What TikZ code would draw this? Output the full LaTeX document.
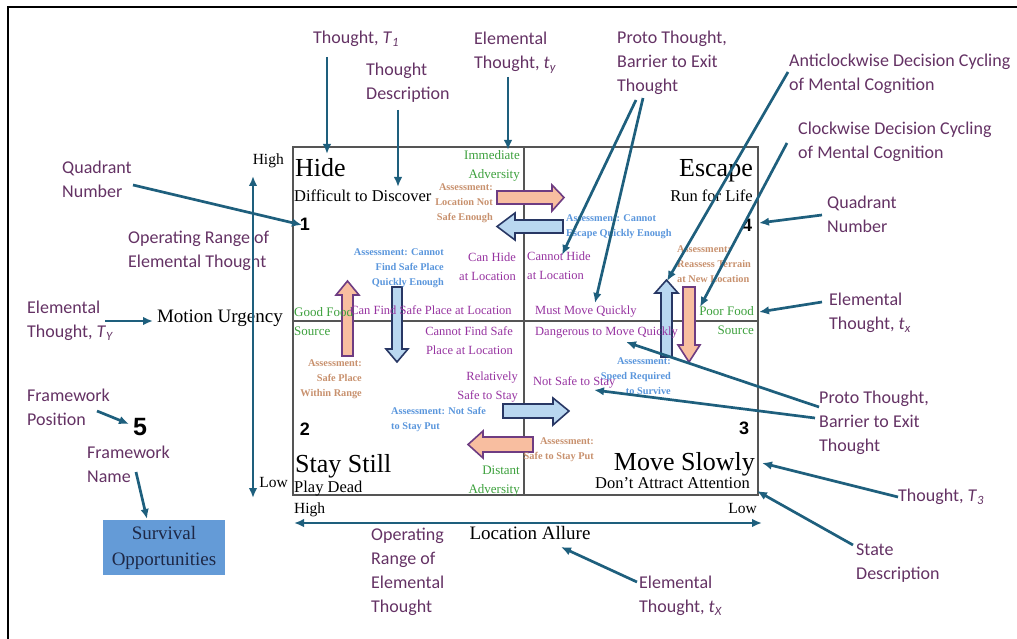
\documentclass[tikz,border=0pt]{standalone}
\usepackage{fontspec}
\setmainfont{Liberation Serif}
\newfontfamily\annfont{Carlito}
\newfontfamily\numfont{Liberation Sans}
\usetikzlibrary{arrows.meta}
\definecolor{tealc}{RGB}{30,95,125}
\definecolor{annc}{RGB}{100,50,100}
\definecolor{purpc}{RGB}{150,50,160}
\definecolor{grnc}{RGB}{60,160,60}
\definecolor{tanc}{RGB}{200,145,110}
\definecolor{bluec}{RGB}{90,150,220}
\definecolor{warmfill}{RGB}{248,190,160}
\definecolor{warmedge}{RGB}{110,60,130}
\definecolor{coolfill}{RGB}{185,215,240}
\definecolor{cooledge}{RGB}{40,55,100}
\definecolor{boxc}{RGB}{85,85,85}
\definecolor{survfill}{RGB}{100,155,215}
\definecolor{survtext}{RGB}{30,40,70}
\tikzset{
  ann/.style={font=\annfont\fontsize{18}{24}\selectfont, text=annc, inner sep=0pt, align=left, anchor=north west},
  purp/.style={font=\fontsize{12.5}{19}\selectfont, text=purpc, inner sep=0pt},
  grn/.style={font=\fontsize{13}{19}\selectfont, text=grnc, inner sep=0pt},
  asmt/.style={font=\bfseries\fontsize{10.3}{15}\selectfont, inner sep=0pt},
  bigl/.style={font=\fontsize{26}{28}\selectfont, inner sep=0pt},
  desc/.style={font=\fontsize{16.5}{18}\selectfont, inner sep=0pt},
  axl/.style={font=\fontsize{15.5}{17}\selectfont, inner sep=0pt},
  axt/.style={font=\fontsize{19}{21}\selectfont, inner sep=0pt},
  qnum/.style={font=\numfont\bfseries\fontsize{18}{18}\selectfont, inner sep=0pt},
  callout/.style={draw=tealc, line width=2.7pt, -{Latex[length=10pt,width=8.5pt]}},
  axisarrow/.style={draw=tealc, line width=2.7pt, {Latex[length=10pt,width=8.5pt]}-{Latex[length=10pt,width=8.5pt]}},
  warm/.style={draw=warmedge, fill=warmfill, line width=1.6pt},
  cool/.style={draw=cooledge, fill=coolfill, line width=1.6pt},
}
\begin{document}
\begin{tikzpicture}[x=1pt,y=-1pt]
\useasboundingbox (0,0) rectangle (1017,639);
% outer frame
\draw[line width=2pt] (8,639) -- (8,7) -- (1017,7);
% main box
\draw[boxc, line width=1.6pt] (293,147) rectangle (758,495);
\draw[boxc, line width=1.6pt] (524,147) -- (524,495);
\draw[boxc, line width=1.6pt] (293,321) -- (758,321);

% block arrows
\draw[warm] (497,191) -- (552,191) -- (552,185) -- (564,197.5) -- (552,211) -- (552,204) -- (497,204) -- cycle;
\draw[cool] (563,220) -- (515,220) -- (515,213) -- (497,226.5) -- (515,240) -- (515,233) -- (563,233) -- cycle;
\draw[warm] (342,356) -- (342,295) -- (336,295) -- (347.5,281) -- (359,295) -- (353,295) -- (353,356) -- cycle;
\draw[cool] (392,287) -- (392,349) -- (386,349) -- (397,362) -- (408,349) -- (402,349) -- (402,287) -- cycle;
\draw[cool] (661,357) -- (661,293) -- (655,293) -- (666.5,280) -- (678,293) -- (672,293) -- (672,357) -- cycle;
\draw[warm] (683,287) -- (683,345) -- (678,345) -- (689,362) -- (700,345) -- (695,345) -- (695,287) -- cycle;
\draw[cool] (503,404) -- (553,404) -- (553,398) -- (569,411) -- (553,425) -- (553,418) -- (503,418) -- cycle;
\draw[warm] (533,437) -- (483,437) -- (483,431) -- (468,444.5) -- (483,458) -- (483,452) -- (533,452) -- cycle;

% quadrant headings
\node[bigl, anchor=base west] (hide) at (295,177) {Hide};
\node[desc, anchor=base west] (hided) at (294,201) {Difficult to Discover};
\node[bigl, anchor=base east] (esc) at (753,177) {Escape};
\node[desc, anchor=base east] (escd) at (753,201) {Run for Life};
\node[bigl, anchor=base west] (stay) at (295,472) {Stay Still};
\node[desc, anchor=base west] (stayd) at (294,492) {Play Dead};
\node[bigl, anchor=base east] (slow) at (755,470) {Move Slowly};
\node[desc, anchor=base east] (slowd) at (750,488) {Don’t Attract Attention};
% quadrant numbers
\node[qnum] (n1) at (305,224) {1};
\node[qnum] (n4) at (747,225) {4};
\node[qnum] (n2) at (305,429) {2};
\node[qnum] (n3) at (744,428) {3};

% green elemental texts
\node[grn, align=right, anchor=north east] (immadv) at (520,150) {Immediate\\Adversity};
\node[grn, align=right, anchor=north east] (distadv) at (520,466) {Distant\\Adversity};
\node[grn, align=left, anchor=north west] (goodfood) at (294,307) {Good Food\\Source};
\node[grn, align=right, anchor=north east] (poorfood) at (754,306) {Poor Food\\Source};

% assessments
\node[asmt, text=tanc, align=right, anchor=north east] (a1) at (493,184) {Assessment:\\Location Not\\Safe Enough};
\node[asmt, text=bluec, align=left, anchor=north west] (a2) at (566,214) {Assessment: Cannot\\Escape Quickly Enough};
\node[asmt, text=bluec, align=right, anchor=north east] (a3) at (444,248) {Assessment: Cannot\\Find Safe Place\\Quickly Enough};
\node[asmt, text=tanc, align=left, anchor=north west] (a4) at (677,245) {Assessment:\\Reassess Terrain\\at New Location};
\node[asmt, text=bluec, align=right, anchor=north east] (a5) at (671,357) {Assessment:\\Speed Required\\to Survive};
\node[asmt, text=tanc, align=right, anchor=north east] (a6) at (594,437) {Assessment:\\Safe to Stay Put};
\node[asmt, text=tanc, align=right, anchor=north east] (a7) at (362,359) {Assessment:\\Safe Place\\Within Range};
\node[asmt, text=bluec, align=left, anchor=north west] (a8) at (391,407) {Assessment: Not Safe\\to Stay Put};

% purple proto texts
\node[purp, align=right, anchor=north east] (p1) at (516,253) {Can Hide\\at Location};
\node[purp, align=left, anchor=north west] (p2) at (527,252) {Cannot Hide\\at Location};
\node[purp, anchor=mid] (p3) at (431,312) {Can Find Safe Place at Location};
\node[purp, anchor=mid west] (p4) at (535,312) {Must Move Quickly};
\node[purp, anchor=mid west] (p5) at (535,333) {Dangerous to Move Quickly};
\node[purp, align=right, anchor=north east] (p6) at (513,326) {Cannot Find Safe\\Place at Location};
\node[purp, align=right, anchor=north east] (p7) at (518,372) {Relatively\\Safe to Stay};
\node[purp, anchor=mid west] (p8) at (533,383) {Not Safe to Stay};

% axes
\node[axl, anchor=mid east] (yhigh) at (284,162) {High};
\node[axl, anchor=mid east] (ylow) at (288,485) {Low};
\node[axl, anchor=mid west] (xhigh) at (294,511) {High};
\node[axl, anchor=mid east] (xlow) at (757,511) {Low};
\node[axt, anchor=mid east] (motion) at (283,320) {Motion Urgency};
\node[axt, anchor=mid] (allure) at (530,537) {Location Allure};

% survival box
\node[fill=survfill, minimum width=122pt, minimum height=55pt, inner sep=0pt, align=center,
  font=\fontsize{19}{26}\selectfont, text=survtext] (surv) at (164,547.5) {Survival\\Opportunities};
\node[qnum, font=\numfont\bfseries\fontsize{25}{25}\selectfont] (n5) at (140,427) {5};

% annotation labels
\node[ann] (lT1) at (313,31) {Thought, \textit{T}\textsubscript{\textit{1}}};
\node[ann] (lTD) at (366,63) {Thought\\Description};
\node[ann] (lty) at (474,32) {Elemental\\Thought, \textit{t}\textsubscript{\textit{y}}};
\node[ann] (lpt1) at (617,31) {Proto Thought,\\Barrier to Exit\\Thought};
\node[ann] (lacw) at (789,54) {Anticlockwise Decision Cycling\\of Mental Cognition};
\node[ann] (lcw) at (798,122) {Clockwise Decision Cycling\\of Mental Cognition};
\node[ann] (lqn1) at (62,161) {Quadrant\\Number};
\node[ann] (lor1) at (128,231) {Operating Range of\\Elemental Thought};
\node[ann] (lTY) at (27,301) {Elemental\\Thought, \textit{T}\textsubscript{\textit{Y}}};
\node[ann] (lfp) at (27,389) {Framework\\Position};
\node[ann] (lfn) at (87,446) {Framework\\Name};
\node[ann] (lqn4) at (827,196) {Quadrant\\Number};
\node[ann] (ltx) at (829,293) {Elemental\\Thought, \textit{t}\textsubscript{\textit{x}}};
\node[ann] (lpt2) at (819,391) {Proto Thought,\\Barrier to Exit\\Thought};
\node[ann] (lT3) at (898,489) {Thought, \textit{T}\textsubscript{\textit{3}}};
\node[ann] (lsd) at (856,544) {State\\Description};
\node[ann] (ltX) at (639,576) {Elemental\\Thought, \textit{t}\textsubscript{\textit{X}}};
\node[ann] (lor2) at (371,528) {Operating\\Range of\\Elemental\\Thought};

% axis double arrows
\coordinate (ytop) at (253,176);
\coordinate (ybot) at (253,498);
\coordinate (xleft) at (294,523);
\coordinate (xright) at (762,523);
\draw[axisarrow] (ytop) -- (ybot);
\draw[axisarrow] (xleft) -- (xright);

% callout coordinates
\coordinate (s1) at (327,57);   \coordinate (e1) at (327,154);
\coordinate (s2) at (398,110);  \coordinate (e2) at (398,187);
\coordinate (s3) at (508,77);   \coordinate (e3) at (508,150);
\coordinate (s4) at (636,100);  \coordinate (e4) at (562,255);
\coordinate (s5) at (643,98);   \coordinate (e5) at (595,303);
\coordinate (s6) at (788,72);   \coordinate (e6) at (667,281);
\coordinate (s7) at (787,143);  \coordinate (e7) at (700,307);
\coordinate (s8) at (133,185);  \coordinate (e8) at (302,225);
\coordinate (s9) at (105,321);  \coordinate (e9) at (153,321);
\coordinate (s10) at (97,411);  \coordinate (e10) at (129,424);
\coordinate (s11) at (136,472); \coordinate (e11) at (147,519);
\coordinate (s12) at (822,215); \coordinate (e12) at (759,223);
\coordinate (s13) at (822,302); \coordinate (e13) at (759,312);
\coordinate (s14) at (819,407); \coordinate (e14) at (626,342);
\coordinate (s15) at (815,418); \coordinate (e15) at (594,390);
\coordinate (s16) at (898,497); \coordinate (e16) at (762,463);
\coordinate (s17) at (853,545); \coordinate (e17) at (757,491);
\coordinate (s18) at (637,582); \coordinate (e18) at (561,547);
\foreach \i in {1,...,18} {\draw[callout] (s\i) -- (e\i);}
\end{tikzpicture}
\end{document}
